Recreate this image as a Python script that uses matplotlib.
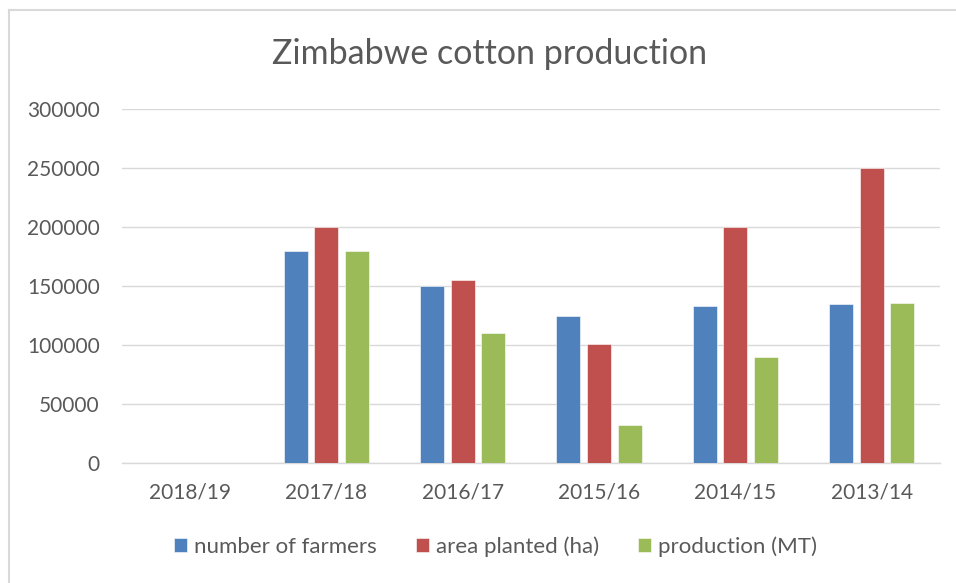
import numpy as np
import matplotlib
matplotlib.use("Agg")
import matplotlib.pyplot as plt
from matplotlib.lines import Line2D

# ── Data ───────────────────────────────────────────────────────────────
seasons = ["2018/19", "2017/18", "2016/17", "2015/16", "2014/15", "2013/14"]
farmers = [0, 180000, 150000, 125000, 133000, 134500]
area_ha = [0, 200000, 155000, 101000, 200000, 250000]
production_mt = [0, 180000, 110000, 32000, 90000, 136000]

series_names = ["number of farmers", "area planted (ha)", "production (MT)"]
colors = ["#4F81BD", "#C0504D", "#9BBB59"]
yticks = [0, 50000, 100000, 150000, 200000, 250000, 300000]

TEXT = "#595959"
GRID = "#D9D9D9"

plt.rcParams["font.family"] = ["Lato", "DejaVu Sans"]

fig = plt.figure(figsize=(9.56, 5.83), dpi=100)
ax = fig.add_axes([0.1276, 0.2058, 0.8554, 0.6072])

x = np.arange(len(seasons))
step = 0.224
width = 0.176
for i, (vals, name, c) in enumerate(zip([farmers, area_ha, production_mt], series_names, colors)):
    ax.bar(x + (i - 1) * step, vals, width, color=c, label=name,
           edgecolor="white", linewidth=0.4, zorder=3)

ax.set_xlim(-0.5, len(seasons) - 0.5)
ax.set_ylim(0, 300000)
ax.set_yticks(yticks)
ax.set_yticklabels([str(v) for v in yticks])
ax.set_xticks(x)
ax.set_xticklabels(seasons)
ax.tick_params(axis="both", length=0, labelsize=15, colors=TEXT)
ax.tick_params(axis="y", pad=16)
ax.tick_params(axis="x", pad=14)
ax.grid(axis="y", color=GRID, linewidth=1.0, zorder=0)
for s in ["top", "right", "left"]:
    ax.spines[s].set_visible(False)
ax.spines["bottom"].set_color(GRID)
ax.spines["bottom"].set_linewidth(1.0)

fig.text(0.512, 0.908, "Zimbabwe cotton production", ha="center", va="center",
         fontsize=24.5, color=TEXT)

ax.legend(loc="center", bbox_to_anchor=(0.457, -0.237), ncol=3, frameon=False,
          fontsize=16, labelcolor=TEXT, handlelength=0.585, handleheight=0.585,
          handletextpad=0.32, columnspacing=1.76)

# chart frame: top and left edges only
fig.add_artist(Line2D([9 / 956, 1.0], [1 - 10 / 583, 1 - 10 / 583],
                      transform=fig.transFigure, color=GRID, linewidth=1.5))
fig.add_artist(Line2D([9 / 956, 9 / 956], [0.0, 1 - 10 / 583],
                      transform=fig.transFigure, color=GRID, linewidth=1.5))

fig.savefig("out.png", dpi=100, facecolor="white")
